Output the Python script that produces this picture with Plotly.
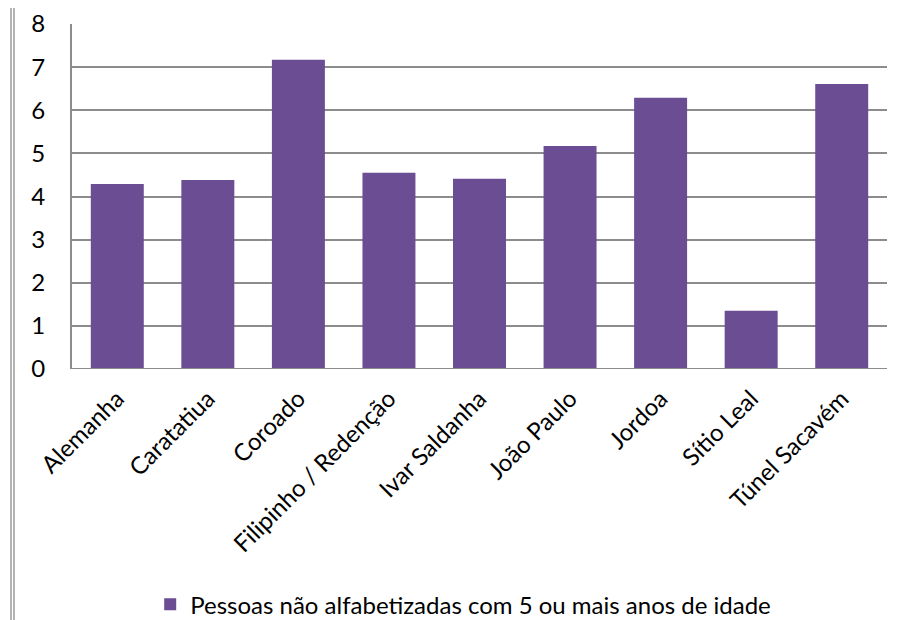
import plotly.graph_objects as go

# bairros e valores (%)
bairros = ["Alemanha", "Caratatiua", "Coroado", "Filipinho / Redenção", "Ivar Saldanha",
           "João Paulo", "Jordoa", "Sítio Leal", "Túnel Sacavém"]
valores = [4.29, 4.38, 7.17, 4.55, 4.41, 5.17, 6.29, 1.35, 6.61]
serie = "Pessoas não alfabetizadas com 5 ou mais anos de idade"
y_ticks = [0, 1, 2, 3, 4, 5, 6, 7, 8]

fonte = dict(family="Lato, Carlito, Calibri, sans-serif", size=24, color="black")

fig = go.Figure()
fig.add_trace(go.Bar(
    x=bairros, y=valores, name=serie,
    marker=dict(color="#6B4D94", line=dict(width=0)),
    showlegend=True,
))

# a página tem 8px de margem no corpo, por isso a figura é um pouco menor
fig.update_layout(
    width=892, height=612,
    margin=dict(l=64, r=13, t=16, b=251),
    plot_bgcolor="white", paper_bgcolor="white",
    font=fonte,
    bargap=0.415,
    showlegend=True,
    legend=dict(orientation="h", x=0.48, xanchor="center", yref="container", y=0.025,
                yanchor="middle", font=fonte, itemsizing="constant"),
    xaxis=dict(tickangle=-45, showgrid=False, showline=False, ticks="",
               tickfont=fonte, automargin=False, ticklabelstandoff=10),
    yaxis=dict(range=[0, 8], tickvals=y_ticks, showgrid=True, gridcolor="#8C8C8C",
               gridwidth=2, zeroline=False, showline=True, linecolor="#8C8C8C",
               linewidth=2, ticks="", ticklabelstandoff=20, tickfont=fonte,
               automargin=False),
)

# linha inferior (eixo 0) e moldura dupla à esquerda
fig.add_shape(type="line", xref="paper", yref="y", x0=0, x1=1, y0=0, y1=0,
              line=dict(color="#8C8C8C", width=2))
for px_x in [3, 6]:
    fig.add_shape(type="line", xref="paper", yref="paper",
                  x0=(px_x - 64) / 815, x1=(px_x - 64) / 815, y0=-0.8, y1=1.1,
                  line=dict(color="#9A9A9A", width=1.5))

fig.write_html("out.html")
